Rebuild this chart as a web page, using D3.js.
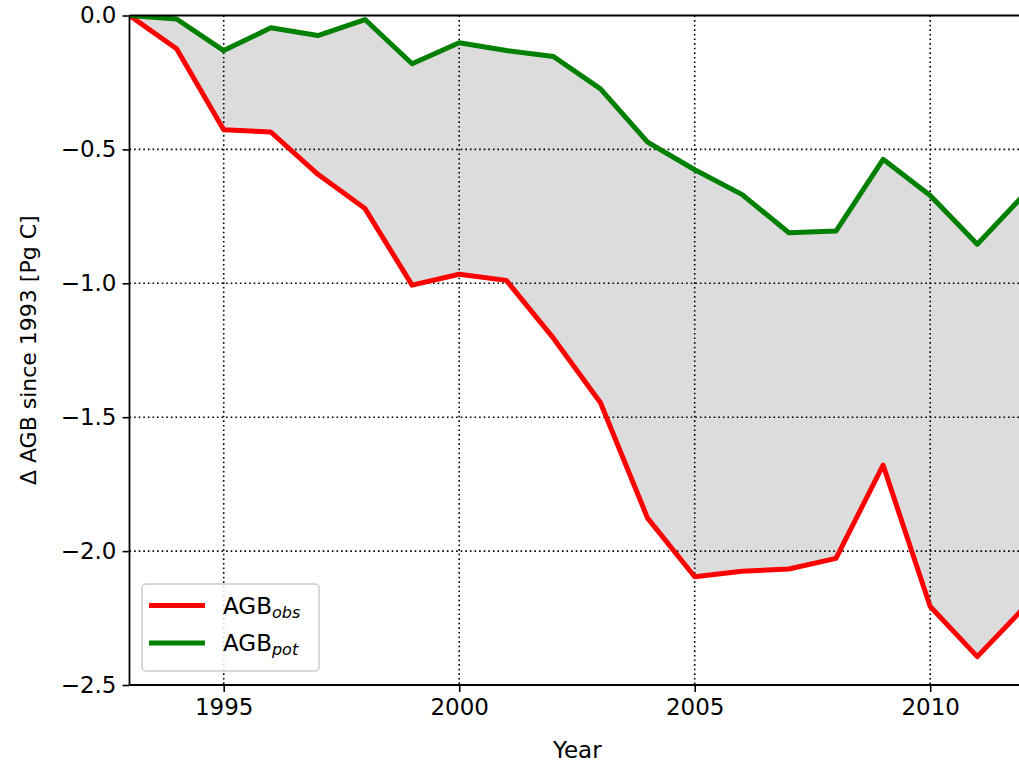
<!DOCTYPE html>
<html>
<head>
<meta charset="utf-8">
<script src="https://cdn.jsdelivr.net/npm/d3@7"></script>
<style>
  body { margin: 0; background: #fff; }
  svg { display: block; font-family: "DejaVu Sans", sans-serif; }
</style>
</head>
<body>
<div id="chart"></div>
<script>
// data (Pg C, change since 1993)
const years = [1993, 1994, 1995, 1996, 1997, 1998, 1999, 2000, 2001, 2002,
               2003, 2004, 2005, 2006, 2007, 2008, 2009, 2010, 2011, 2012];
const agbObs = [0, -0.124, -0.427, -0.435, -0.593, -0.721, -1.007, -0.966, -0.989, -1.205,
                -1.446, -1.877, -2.096, -2.075, -2.067, -2.027, -1.679, -2.207, -2.394, -2.21];
const agbPot = [0, -0.013, -0.131, -0.046, -0.075, -0.015, -0.18, -0.102, -0.131, -0.153,
                -0.274, -0.473, -0.576, -0.668, -0.811, -0.805, -0.537, -0.672, -0.854, -0.668];
const xTicks = [1995, 2000, 2005, 2010];
const yTicks = [0, -0.5, -1.0, -1.5, -2.0, -2.5];

const width = 1019, height = 765;
const margin = {left: 129.5, top: 15.5, bottom: 80};
const yearPx = 47.1;

const x = d3.scaleLinear()
  .domain([1993, 2013])
  .range([margin.left, margin.left + 20 * yearPx]);
const y = d3.scaleLinear()
  .domain([-2.5, 0])
  .range([height - margin.bottom, margin.top]);

const rows = years.map((yr, i) => ({year: yr, obs: agbObs[i], pot: agbPot[i]}));

const svg = d3.select("#chart").append("svg")
  .attr("width", width)
  .attr("height", height);

svg.append("clipPath").attr("id", "plotclip")
  .append("rect")
  .attr("x", margin.left).attr("y", margin.top)
  .attr("width", width - margin.left).attr("height", y(-2.5) - margin.top);

const plot = svg.append("g").attr("clip-path", "url(#plotclip)");

// shaded band between the two curves
plot.append("path")
  .datum(rows)
  .attr("fill", "#dcdcdc")
  .attr("d", d3.area()
    .x(d => x(d.year))
    .y0(d => y(d.obs))
    .y1(d => y(d.pot)));

// dotted grid
const fmtY = d => d3.format(".1f")(d).replace("-", "\u2212");
plot.append("g")
  .selectAll("line.vx")
  .data(xTicks)
  .join("line")
  .attr("x1", d => x(d)).attr("x2", d => x(d))
  .attr("y1", margin.top).attr("y2", y(-2.5))
  .attr("stroke", "#000").attr("stroke-width", 1.6)
  .attr("stroke-dasharray", "1.6,3");
plot.append("g")
  .selectAll("line.hy")
  .data(yTicks.filter(d => d !== 0 && d !== -2.5))
  .join("line")
  .attr("x1", margin.left).attr("x2", width)
  .attr("y1", d => y(d)).attr("y2", d => y(d))
  .attr("stroke", "#000").attr("stroke-width", 1.6)
  .attr("stroke-dasharray", "1.6,3");

// series lines
const series = [
  {key: "obs", color: "#ff0000", sub: "obs"},
  {key: "pot", color: "#008000", sub: "pot"}
];
series.forEach(s => {
  plot.append("path")
    .datum(rows)
    .attr("fill", "none")
    .attr("stroke", s.color)
    .attr("stroke-width", 5)
    .attr("stroke-linejoin", "round")
    .attr("d", d3.line().x(d => x(d.year)).y(d => y(d[s.key])));
});

// axes
const xAxis = d3.axisBottom(x).tickValues(xTicks).tickFormat(d3.format("d"))
  .tickSize(7).tickPadding(7);
const yAxis = d3.axisLeft(y).tickValues(yTicks).tickFormat(fmtY)
  .tickSize(7).tickPadding(6);

const gx = svg.append("g")
  .attr("transform", `translate(0,${y(-2.5)})`)
  .call(xAxis);
const gy = svg.append("g")
  .attr("transform", `translate(${margin.left},0)`)
  .call(yAxis);
[gx, gy].forEach(g => {
  g.select(".domain").remove();
  g.selectAll(".tick line").attr("stroke", "#000").attr("stroke-width", 1.6);
  g.selectAll(".tick text").attr("fill", "#000")
    .attr("font-size", 23).attr("font-family", "DejaVu Sans, sans-serif");
});

// spines
svg.append("g")
  .attr("stroke", "#000").attr("stroke-width", 1.8).attr("fill", "none")
  .selectAll("line")
  .data([
    [margin.left, margin.top, width, margin.top],
    [margin.left, y(-2.5), width, y(-2.5)],
    [margin.left, margin.top, margin.left, y(-2.5)]
  ])
  .join("line")
  .attr("x1", d => d[0]).attr("y1", d => d[1])
  .attr("x2", d => d[2]).attr("y2", d => d[3]);

// axis labels
svg.append("text")
  .attr("x", (margin.left + width) / 2 + 3)
  .attr("y", 758)
  .attr("text-anchor", "middle")
  .attr("font-size", 23)
  .text("Year");
svg.append("text")
  .attr("transform", `translate(36,${(margin.top + y(-2.5)) / 2}) rotate(-90)`)
  .attr("text-anchor", "middle")
  .attr("font-size", 22)
  .text("\u0394 AGB since 1993 [Pg C]");

// legend
const legend = svg.append("g").attr("transform", "translate(142,584)");
legend.append("rect")
  .attr("width", 177).attr("height", 87)
  .attr("rx", 4)
  .attr("fill", "#fff").attr("fill-opacity", 0.85)
  .attr("stroke", "#cccccc").attr("stroke-width", 1.5);
series.forEach((s, i) => {
  const ly = 21.5 + i * 37.5;
  legend.append("line")
    .attr("x1", 7).attr("x2", 63)
    .attr("y1", ly).attr("y2", ly)
    .attr("stroke", s.color).attr("stroke-width", 5);
  const t = legend.append("text")
    .attr("x", 81).attr("y", ly + 8)
    .attr("font-size", 23);
  t.append("tspan").text("AGB");
  t.append("tspan")
    .attr("dy", 4).attr("font-size", 16).attr("font-style", "italic")
    .text(s.sub);
});
</script>
</body>
</html>
